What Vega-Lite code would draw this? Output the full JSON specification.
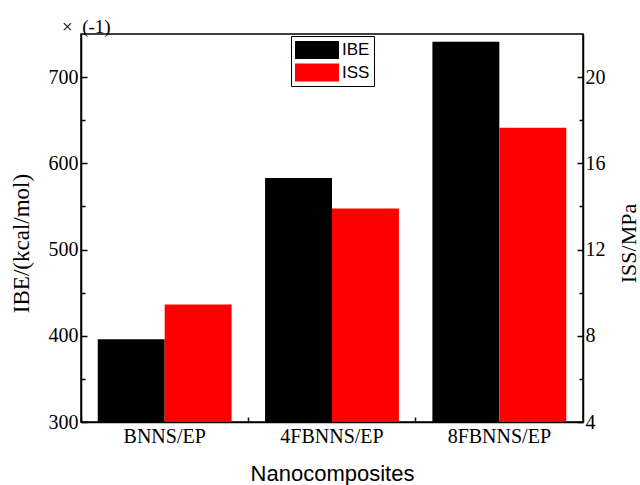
{
  "$schema": "https://vega.github.io/schema/vega-lite/v6.json",
  "width": 502,
  "height": 388,
  "autosize": {"type": "none"},
  "padding": {"left": 81, "top": 34, "right": 57, "bottom": 63},
  "background": "white",
  "title": {
    "text": "×\u00a0\u00a0(-1)",
    "anchor": "start",
    "frame": "group",
    "orient": "top",
    "baseline": "alphabetic",
    "offset": -18,
    "dx": -19,
    "font": "Liberation Serif",
    "fontSize": 19,
    "fontWeight": "normal",
    "color": "black"
  },
  "config": {
    "view": {"stroke": "black", "strokeWidth": 1.5},
    "axis": {
      "domainColor": "black",
      "domainWidth": 1.5,
      "tickColor": "black",
      "tickWidth": 1.5,
      "labelColor": "black",
      "titleColor": "black",
      "labelFont": "Liberation Serif",
      "labelFontSize": 20,
      "titleFontWeight": "normal",
      "grid": false
    }
  },
  "data": {
    "values": [
      {"cat": "BNNS/EP", "series": "IBE", "value": 396},
      {"cat": "4FBNNS/EP", "series": "IBE", "value": 583},
      {"cat": "8FBNNS/EP", "series": "IBE", "value": 741},
      {"cat": "BNNS/EP", "series": "ISS", "value": 9.45},
      {"cat": "4FBNNS/EP", "series": "ISS", "value": 13.9},
      {"cat": "8FBNNS/EP", "series": "ISS", "value": 17.65}
    ]
  },
  "encoding": {
    "x": {
      "field": "cat",
      "type": "nominal",
      "sort": ["BNNS/EP", "4FBNNS/EP", "8FBNNS/EP"],
      "scale": {"paddingInner": 0, "paddingOuter": 0},
      "axis": {
        "title": "Nanocomposites",
        "titleFont": "Liberation Sans",
        "titleFontSize": 22,
        "titleY": 58,
        "titleBaseline": "alphabetic",
        "labelFont": "Liberation Serif",
        "labelFontSize": 20,
        "labelAngle": 0,
        "bandPosition": 0,
        "tickSize": -5,
        "labelPadding": 9
      }
    },
    "xOffset": {
      "field": "series",
      "type": "nominal",
      "scale": {"domain": ["IBE", "ISS"], "paddingInner": 0, "paddingOuter": 0.25}
    },
    "color": {
      "field": "series",
      "type": "nominal",
      "scale": {"domain": ["IBE", "ISS"], "range": ["#000000", "#ff0000"]},
      "legend": {
        "title": null,
        "orient": "none",
        "legendX": 210,
        "legendY": 2,
        "padding": 4,
        "strokeColor": "black",
        "fillColor": "white",
        "symbolType": "M-1,-0.9L3.4,-0.9L3.4,0.9L-1,0.9Z",
        "symbolSize": 400,
        "symbolStrokeWidth": 0,
        "symbolOpacity": 1,
        "labelFont": "Liberation Sans",
        "labelFontSize": 17,
        "labelColor": "black",
        "labelOffset": 27,
        "rowPadding": 3.5
      }
    }
  },
  "layer": [
    {
      "transform": [{"filter": "datum.series === 'IBE'"}],
      "mark": {"type": "bar", "opacity": 1, "clip": true},
      "encoding": {
        "y": {
          "field": "value",
          "type": "quantitative",
          "scale": {"domain": [300, 750], "nice": false, "zero": false},
          "axis": {
            "orient": "left",
            "title": "IBE/(kcal/mol)",
            "titleFont": "Liberation Serif",
            "titleFontSize": 23,
            "titleX": -60,
            "titleY": 209,
            "titleAngle": 270,
            "titleAlign": "center",
            "titleBaseline": "middle",
            "labelFont": "Liberation Serif",
            "labelFontSize": 20,
            "values": [300, 350, 400, 450, 500, 550, 600, 650, 700],
            "labelExpr": "datum.value % 100 === 0 ? datum.label : ''",
            "tickSize": {"condition": {"test": "datum.value % 100 === 0", "value": -6}, "value": -4},
            "labelPadding": 9
          }
        }
      }
    },
    {
      "transform": [{"filter": "datum.series === 'ISS'"}],
      "mark": {"type": "bar", "opacity": 1, "clip": true},
      "encoding": {
        "y": {
          "field": "value",
          "type": "quantitative",
          "scale": {"domain": [4, 22], "nice": false, "zero": false},
          "axis": {
            "orient": "right",
            "title": "ISS/MPa",
            "titleFont": "Liberation Serif",
            "titleFontSize": 22,
            "titleX": 45,
            "titleY": 209,
            "titleAngle": 270,
            "titleAlign": "center",
            "titleBaseline": "middle",
            "labelFont": "Liberation Serif",
            "labelFontSize": 20,
            "values": [4, 6, 8, 10, 12, 14, 16, 18, 20],
            "labelExpr": "datum.value % 4 === 0 ? datum.label : ''",
            "tickSize": {"condition": {"test": "datum.value % 4 === 0", "value": -6}, "value": -4},
            "labelPadding": 8
          }
        }
      }
    }
  ],
  "resolve": {"scale": {"y": "independent"}, "axis": {"y": "independent"}}
}
